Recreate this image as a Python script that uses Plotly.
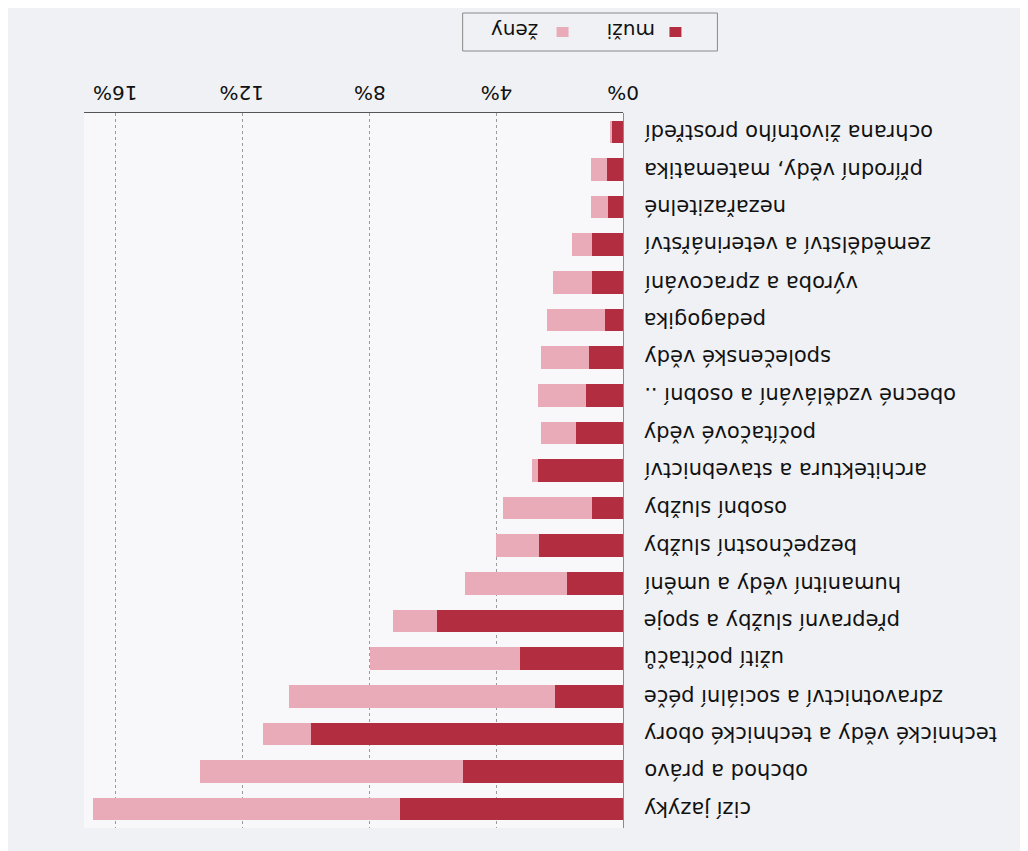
import plotly.graph_objects as go

categories = [
    "ochrana životního prostředí",
    "přírodní vědy, matematika",
    "nezařazitelné",
    "zemědělství a veterinářství",
    "výroba a zpracování",
    "pedagogika",
    "společenské vědy",
    "obecné vzdělávání a osobní ..",
    "počítačové vědy",
    "architektura a stavebnictví",
    "osobní služby",
    "bezpečnostní služby",
    "humanitní vědy a umění",
    "přepravní služby a spoje",
    "užití počítačů",
    "zdravotnictví a sociální péče",
    "technické vědy a technické obory",
    "obchod a právo",
    "cizí jazyky",
]
muzi = [0.37, 0.50, 0.48, 0.99, 0.99, 0.57, 1.08, 1.18, 1.47, 2.67, 0.97, 2.65,
        1.77, 5.86, 3.25, 2.15, 9.85, 5.05, 7.04]
zeny = [0.05, 0.50, 0.52, 0.61, 1.21, 1.83, 1.52, 1.50, 1.13, 0.21, 2.80, 1.34,
        3.20, 1.41, 4.73, 8.39, 1.49, 8.29, 9.68]
tick_vals = [0, 4, 8, 12, 16]
tick_labels = ["0%", "4%", "8%", "12%", "16%"]
series_names = ["muži", "ženy"]

DARK = "#b22d40"
PINK = "#eaabb9"
FONT = "DejaVu Sans"
TXT = "#111111"

# plot area in screen pixels (page has an 8px body margin)
PX_L, PX_R, PX_T, PX_B = 84, 623.5, 113, 828
PW, PH = PX_R - PX_L, PX_B - PX_T


def px(xs):
    return (xs - PX_L) / PW


def py(ys):
    return (PX_B - ys) / PH


fig = go.Figure()
fig.add_trace(go.Bar(y=categories, x=muzi, orientation="h", name=series_names[0],
                     marker=dict(color=DARK, line=dict(width=0))))
fig.add_trace(go.Bar(y=categories, x=zeny, orientation="h", name=series_names[1],
                     marker=dict(color=PINK, line=dict(width=0))))

annotations = []
for c in categories:
    annotations.append(dict(x=0, y=c, xref="x", yref="y", text=c, showarrow=False,
                            xanchor="left", yanchor="middle", xshift=19, textangle=180,
                            font=dict(family=FONT, size=21, color=TXT)))
for v, t in zip(tick_vals, tick_labels):
    annotations.append(dict(x=v, y=1, xref="x", yref="paper", text=t, showarrow=False,
                            xanchor="center", yanchor="bottom", yshift=6, textangle=180,
                            font=dict(family=FONT, size=20, color=TXT)))

# manual upside-down legend
shapes = [
    dict(type="rect", xref="paper", yref="paper", x0=px(463), x1=px(718),
         y0=py(51), y1=py(13),
         line=dict(color="#8a8a8a", width=1), fillcolor="rgba(0,0,0,0)", layer="above"),
    dict(type="rect", xref="paper", yref="paper", x0=px(670), x1=px(682),
         y0=py(37), y1=py(27), line=dict(width=0), fillcolor=DARK),
    dict(type="rect", xref="paper", yref="paper", x0=px(557), x1=px(569),
         y0=py(37), y1=py(27), line=dict(width=0), fillcolor=PINK),
]
annotations.append(dict(x=px(631), y=py(31), xref="paper", yref="paper",
                        text=series_names[0], showarrow=False, xanchor="center", yanchor="middle",
                        textangle=180, font=dict(family=FONT, size=20, color=TXT)))
annotations.append(dict(x=px(515), y=py(31), xref="paper", yref="paper",
                        text=series_names[1], showarrow=False, xanchor="center", yanchor="middle",
                        textangle=180, font=dict(family=FONT, size=20, color=TXT)))

fig.update_layout(
    width=1028, height=851,
    margin=dict(l=PX_L - 8, r=1028 + 8 - PX_R, t=PX_T - 8, b=851 + 8 - PX_B, autoexpand=False),
    barmode="stack", bargap=0.4,
    showlegend=False,
    paper_bgcolor="#f0f1f5",
    plot_bgcolor="#f8f8fa",
    annotations=annotations,
    shapes=shapes,
    xaxis=dict(range=[17, 0], side="top", tickvals=tick_vals, showticklabels=False,
               showgrid=True, gridcolor="#9a9a9a", griddash="dot", gridwidth=1,
               zeroline=True, zerolinecolor="#8a8a8a", zerolinewidth=1,
               showline=True, linecolor="#555555", linewidth=1, ticks=""),
    yaxis=dict(categoryorder="array", categoryarray=categories, autorange="reversed",
               showticklabels=False, showgrid=False, zeroline=False, showline=False, ticks=""),
)

fig.write_html("out.html")
